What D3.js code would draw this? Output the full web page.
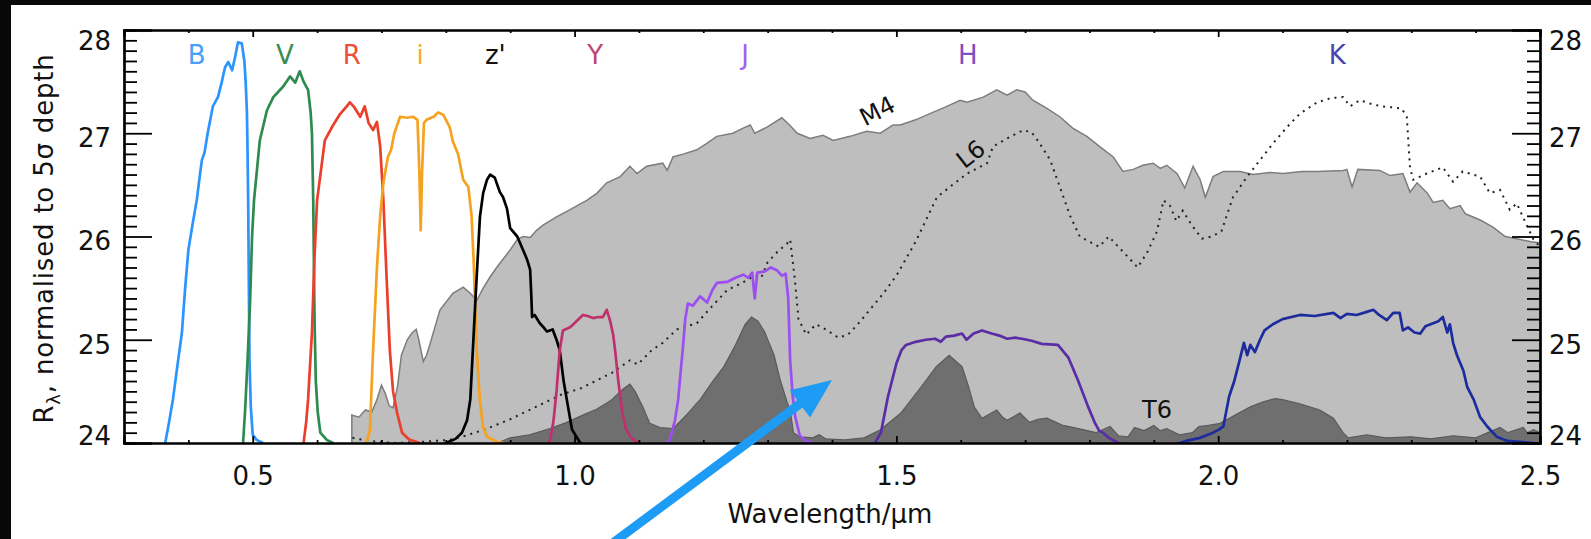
<!DOCTYPE html>
<html>
<head>
<meta charset="utf-8">
<script src="https://cdn.jsdelivr.net/npm/d3@7"></script>
<style>
  html, body { margin: 0; padding: 0; background: #080808; }
  svg { display: block; }
  text { font-family: "DejaVu Sans", sans-serif; fill: #111; }
</style>
</head>
<body>
<svg id="chart" width="1591" height="539"></svg>
<script>
// ---- Data: wavelength (micron) vs R_lambda (mag) ----
const m4Spectrum = [
  [0.654, 24.27], [0.665, 24.25], [0.675, 24.32], [0.685, 24.30], [0.693, 24.42], [0.700, 24.56],
  [0.706, 24.48], [0.712, 24.36], [0.718, 24.34], [0.725, 24.55], [0.731, 24.85], [0.740, 25.00],
  [0.748, 25.07], [0.754, 25.10], [0.758, 25.00], [0.765, 24.79], [0.770, 24.85], [0.775, 24.95],
  [0.791, 25.29], [0.811, 25.45], [0.827, 25.51], [0.838, 25.45], [0.848, 25.38], [0.858, 25.50],
  [0.869, 25.61], [0.879, 25.70], [0.900, 25.87], [0.911, 25.97], [0.920, 26.00], [0.931, 25.99],
  [0.941, 26.06], [0.951, 26.11], [0.972, 26.19], [0.993, 26.26], [1.019, 26.35], [1.035, 26.42],
  [1.050, 26.52], [1.071, 26.58], [1.086, 26.68], [1.097, 26.61], [1.112, 26.68], [1.137, 26.71],
  [1.144, 26.64], [1.153, 26.77], [1.170, 26.80], [1.190, 26.84], [1.205, 26.90], [1.221, 26.97],
  [1.246, 27.00], [1.262, 27.05], [1.273, 27.08], [1.280, 27.00], [1.299, 27.06], [1.322, 27.15],
  [1.334, 27.08], [1.346, 27.00], [1.366, 26.95], [1.386, 26.98], [1.402, 26.93], [1.428, 26.97],
  [1.454, 27.02], [1.475, 27.00], [1.495, 27.08], [1.506, 27.08], [1.530, 27.13], [1.552, 27.19],
  [1.575, 27.25], [1.599, 27.32], [1.610, 27.30], [1.635, 27.35], [1.656, 27.42], [1.672, 27.37],
  [1.687, 27.42], [1.700, 27.40], [1.712, 27.32], [1.734, 27.24], [1.754, 27.16], [1.774, 27.05],
  [1.796, 26.97], [1.816, 26.87], [1.837, 26.77], [1.852, 26.63], [1.868, 26.65], [1.883, 26.69],
  [1.899, 26.71], [1.910, 26.66], [1.920, 26.69], [1.936, 26.61], [1.948, 26.47], [1.961, 26.68],
  [1.972, 26.55], [1.980, 26.38], [1.992, 26.58], [2.008, 26.63], [2.034, 26.63], [2.054, 26.60],
  [2.080, 26.62], [2.101, 26.61], [2.130, 26.63], [2.154, 26.63], [2.194, 26.64], [2.200, 26.65],
  [2.208, 26.48], [2.217, 26.65], [2.251, 26.64], [2.267, 26.59], [2.287, 26.61], [2.298, 26.43],
  [2.309, 26.52], [2.325, 26.42], [2.334, 26.33], [2.349, 26.35], [2.360, 26.27], [2.376, 26.30],
  [2.384, 26.22], [2.407, 26.16], [2.427, 26.09], [2.446, 26.00], [2.462, 25.98], [2.486, 25.95],
  [2.500, 25.94]
];

const l6Spectrum = [
  [0.655, 24.05], [0.680, 24.02], [0.720, 24.00], [0.760, 24.01], [0.805, 24.03], [0.830, 24.07],
  [0.860, 24.13], [0.900, 24.23], [0.940, 24.35], [0.980, 24.47], [1.010, 24.53], [1.058, 24.68],
  [1.086, 24.80], [1.098, 24.76], [1.120, 24.90], [1.137, 24.97], [1.159, 25.10], [1.190, 25.16],
  [1.210, 25.30], [1.237, 25.48], [1.260, 25.55], [1.280, 25.62], [1.290, 25.60], [1.300, 25.75],
  [1.315, 25.85], [1.330, 25.93], [1.335, 25.97], [1.342, 25.60], [1.348, 25.20], [1.360, 25.05],
  [1.375, 25.15], [1.390, 25.10], [1.410, 25.02], [1.425, 25.05], [1.440, 25.15], [1.460, 25.30],
  [1.480, 25.45], [1.500, 25.62], [1.530, 25.95], [1.563, 26.38], [1.583, 26.48], [1.610, 26.61],
  [1.641, 26.71], [1.650, 26.87], [1.672, 26.95], [1.697, 27.03], [1.710, 27.01], [1.723, 26.90],
  [1.739, 26.74], [1.754, 26.48], [1.770, 26.20], [1.785, 26.00], [1.800, 25.95], [1.815, 25.90],
  [1.830, 26.00], [1.845, 25.90], [1.860, 25.80], [1.875, 25.70], [1.890, 25.85], [1.905, 26.05],
  [1.915, 26.35], [1.925, 26.30], [1.935, 26.15], [1.945, 26.25], [1.960, 26.10], [1.975, 25.98],
  [1.990, 26.00], [2.005, 26.05], [2.023, 26.38], [2.045, 26.58], [2.065, 26.74], [2.085, 26.90],
  [2.107, 27.06], [2.127, 27.19], [2.154, 27.30], [2.175, 27.34], [2.194, 27.35], [2.205, 27.26],
  [2.220, 27.32], [2.240, 27.28], [2.255, 27.26], [2.272, 27.25], [2.285, 27.24], [2.293, 27.16],
  [2.298, 26.67], [2.303, 26.55], [2.324, 26.61], [2.349, 26.67], [2.365, 26.53], [2.380, 26.63],
  [2.407, 26.58], [2.422, 26.42], [2.438, 26.45], [2.453, 26.26], [2.464, 26.32], [2.480, 26.10],
  [2.490, 25.97], [2.500, 25.90]
];

const t6Spectrum = [
  [0.880, 24.00], [0.900, 24.05], [0.930, 24.08], [0.962, 24.14], [0.988, 24.20], [1.013, 24.27],
  [1.035, 24.33], [1.058, 24.42], [1.075, 24.52], [1.086, 24.57], [1.094, 24.50], [1.106, 24.35],
  [1.117, 24.19], [1.133, 24.15], [1.153, 24.14], [1.175, 24.28], [1.195, 24.42], [1.215, 24.60],
  [1.232, 24.74], [1.250, 24.95], [1.265, 25.15], [1.275, 25.22], [1.285, 25.18], [1.295, 25.08],
  [1.310, 24.85], [1.320, 24.60], [1.330, 24.40], [1.335, 24.32], [1.340, 24.10], [1.350, 24.06],
  [1.370, 24.05], [1.380, 24.08], [1.390, 24.04], [1.420, 24.03], [1.450, 24.05], [1.476, 24.13],
  [1.507, 24.29], [1.538, 24.54], [1.562, 24.74], [1.582, 24.85], [1.602, 24.74], [1.612, 24.55],
  [1.621, 24.35], [1.633, 24.24], [1.656, 24.32], [1.665, 24.25], [1.672, 24.22], [1.692, 24.29],
  [1.707, 24.20], [1.720, 24.23], [1.734, 24.24], [1.759, 24.17], [1.790, 24.13], [1.810, 24.10],
  [1.832, 24.16], [1.845, 24.07], [1.860, 24.06], [1.870, 24.15], [1.885, 24.12], [1.900, 24.17],
  [1.910, 24.12], [1.920, 24.14], [1.940, 24.08], [1.960, 24.10], [1.970, 24.16], [1.985, 24.17],
  [2.003, 24.19], [2.020, 24.25], [2.050, 24.35], [2.070, 24.40], [2.089, 24.43], [2.100, 24.42],
  [2.127, 24.38], [2.158, 24.32], [2.179, 24.24], [2.194, 24.10], [2.202, 24.05], [2.231, 24.08],
  [2.260, 24.05], [2.300, 24.06], [2.330, 24.04], [2.365, 24.07], [2.400, 24.05], [2.438, 24.15],
  [2.450, 24.10], [2.474, 24.15], [2.480, 24.10], [2.490, 24.13], [2.500, 24.10]
];

// Filter transmission curves, scaled onto the depth axis
const filterB = [
  [0.355, 23.90], [0.364, 24.00], [0.370, 24.20], [0.376, 24.42], [0.383, 24.75], [0.390, 25.07],
  [0.395, 25.50], [0.400, 25.87], [0.406, 26.10], [0.413, 26.35], [0.418, 26.60], [0.421, 26.74],
  [0.425, 26.81], [0.430, 27.00], [0.438, 27.26], [0.446, 27.35], [0.452, 27.50], [0.457, 27.64],
  [0.462, 27.69], [0.468, 27.61], [0.473, 27.75], [0.477, 27.88], [0.483, 27.87], [0.487, 27.70],
  [0.489, 27.50], [0.491, 27.20], [0.492, 26.80], [0.493, 26.30], [0.494, 25.50], [0.495, 24.80],
  [0.497, 24.35], [0.500, 24.08], [0.506, 24.03], [0.516, 24.00]
];
const filterV = [
  [0.480, 23.90], [0.485, 24.00], [0.488, 24.30], [0.492, 24.80], [0.496, 25.39], [0.499, 26.00],
  [0.502, 26.35], [0.511, 26.93], [0.522, 27.22], [0.532, 27.35], [0.547, 27.45], [0.558, 27.55],
  [0.566, 27.49], [0.573, 27.60], [0.579, 27.50], [0.586, 27.42], [0.590, 27.20], [0.592, 27.00],
  [0.594, 26.35], [0.596, 25.20], [0.598, 24.60], [0.601, 24.30], [0.605, 24.10], [0.615, 24.03],
  [0.625, 24.00]
];
const filterR = [
  [0.575, 23.90], [0.579, 24.00], [0.583, 24.20], [0.586, 24.42], [0.592, 25.07], [0.596, 25.80],
  [0.600, 26.35], [0.612, 26.93], [0.625, 27.08], [0.635, 27.18], [0.646, 27.26], [0.651, 27.30],
  [0.658, 27.25], [0.667, 27.16], [0.674, 27.26], [0.680, 27.10], [0.687, 27.03], [0.693, 27.11],
  [0.698, 26.87], [0.703, 26.35], [0.708, 25.60], [0.713, 24.90], [0.718, 24.50], [0.724, 24.30],
  [0.732, 24.10], [0.744, 24.03], [0.760, 24.00]
];
const filterI = [
  [0.672, 23.90], [0.677, 24.01], [0.682, 24.12], [0.687, 24.90], [0.693, 25.70], [0.698, 26.20],
  [0.703, 26.52], [0.710, 26.77], [0.715, 26.84], [0.720, 27.00], [0.729, 27.16], [0.740, 27.15],
  [0.749, 27.16], [0.756, 27.13], [0.759, 26.60], [0.761, 26.06], [0.763, 26.60], [0.766, 27.10],
  [0.770, 27.13], [0.781, 27.16], [0.788, 27.20], [0.796, 27.18], [0.806, 27.06], [0.811, 26.92],
  [0.819, 26.80], [0.827, 26.55], [0.835, 26.48], [0.840, 26.20], [0.843, 25.80], [0.848, 24.90],
  [0.853, 24.40], [0.858, 24.15], [0.864, 24.06], [0.880, 24.01], [0.890, 24.00]
];
const filterZ = [
  [0.790, 23.90], [0.800, 24.00], [0.815, 24.04], [0.825, 24.10], [0.833, 24.22], [0.838, 24.42],
  [0.842, 24.90], [0.847, 25.50], [0.853, 26.19], [0.858, 26.42], [0.864, 26.55], [0.869, 26.60],
  [0.876, 26.57], [0.884, 26.43], [0.889, 26.38], [0.895, 26.27], [0.900, 26.08], [0.911, 26.00],
  [0.920, 25.87], [0.926, 25.78], [0.931, 25.68], [0.933, 25.40], [0.934, 25.22], [0.938, 25.24],
  [0.946, 25.16], [0.952, 25.12], [0.957, 25.08], [0.966, 25.10], [0.972, 25.00], [0.977, 24.90],
  [0.983, 24.60], [0.988, 24.42], [0.996, 24.13], [1.008, 24.01], [1.020, 23.95]
];
const filterY = [
  [0.955, 23.95], [0.962, 24.03], [0.967, 24.20], [0.972, 24.50], [0.977, 24.90], [0.982, 25.09],
  [0.993, 25.12], [1.003, 25.18], [1.013, 25.24], [1.020, 25.23], [1.029, 25.21], [1.037, 25.22],
  [1.044, 25.22], [1.050, 25.29], [1.055, 25.19], [1.060, 25.05], [1.063, 24.90], [1.068, 24.60],
  [1.074, 24.30], [1.080, 24.13], [1.088, 24.05], [1.097, 24.01], [1.110, 23.98]
];
const filterJ = [
  [1.140, 23.98], [1.148, 24.03], [1.156, 24.22], [1.161, 24.42], [1.165, 24.70], [1.168, 24.90],
  [1.172, 25.20], [1.176, 25.35], [1.184, 25.33], [1.195, 25.42], [1.206, 25.36], [1.214, 25.48],
  [1.221, 25.55], [1.237, 25.56], [1.250, 25.60], [1.262, 25.63], [1.270, 25.60], [1.276, 25.65],
  [1.280, 25.40], [1.284, 25.65], [1.295, 25.66], [1.305, 25.70], [1.315, 25.67], [1.322, 25.62],
  [1.328, 25.64], [1.332, 25.40], [1.335, 24.80], [1.339, 24.45], [1.343, 24.25], [1.350, 24.07],
  [1.360, 24.02], [1.370, 24.00]
];
const filterH = [
  [1.465, 23.98], [1.476, 24.10], [1.487, 24.45], [1.500, 24.77], [1.508, 24.90], [1.515, 24.95],
  [1.530, 24.98], [1.546, 25.00], [1.560, 25.01], [1.569, 24.98], [1.577, 25.03], [1.590, 25.04],
  [1.602, 25.06], [1.609, 25.00], [1.620, 25.06], [1.633, 25.09], [1.648, 25.06], [1.660, 25.04],
  [1.672, 25.01], [1.685, 25.02], [1.695, 25.01], [1.710, 24.99], [1.726, 24.96], [1.751, 24.95],
  [1.767, 24.83], [1.782, 24.61], [1.798, 24.35], [1.808, 24.20], [1.815, 24.12], [1.821, 24.10],
  [1.830, 24.05], [1.845, 24.00], [1.860, 23.98]
];
const filterK = [
  [1.930, 23.98], [1.950, 24.02], [1.972, 24.05], [1.992, 24.10], [2.001, 24.13], [2.008, 24.16],
  [2.017, 24.45], [2.025, 24.60], [2.032, 24.77], [2.040, 24.97], [2.045, 24.85], [2.050, 24.95],
  [2.057, 24.88], [2.065, 25.00], [2.072, 25.09], [2.085, 25.15], [2.100, 25.20], [2.127, 25.24],
  [2.150, 25.23], [2.179, 25.26], [2.190, 25.21], [2.200, 25.25], [2.215, 25.24], [2.231, 25.27],
  [2.241, 25.29], [2.250, 25.24], [2.262, 25.19], [2.272, 25.26], [2.282, 25.26], [2.287, 25.09],
  [2.295, 25.12], [2.305, 25.07], [2.314, 25.06], [2.322, 25.13], [2.334, 25.16], [2.342, 25.18],
  [2.349, 25.22], [2.356, 25.07], [2.360, 25.15], [2.365, 24.97], [2.371, 24.85], [2.381, 24.70],
  [2.387, 24.54], [2.397, 24.42], [2.407, 24.25], [2.418, 24.16], [2.433, 24.06], [2.449, 24.02],
  [2.469, 24.01], [2.490, 24.00]
];

const filterNames  = ["B", "V", "R", "i", "z'", "Y", "J", "H", "K"];
const filterCurves = [filterB, filterV, filterR, filterI, filterZ, filterY, filterJ, filterH, filterK];
const filterLabelX = [0.413, 0.550, 0.654, 0.760, 0.877, 1.032, 1.265, 1.611, 2.185];

// Spectral type labels: [text, wavelength, depth, rotation]
const typeLabels = [["M4", 1.470, 27.22, -27], ["L6", 1.615, 26.80, -38], ["T6", 1.905, 24.33, 0]];

const xTickValues = [0.5, 1.0, 1.5, 2.0, 2.5];
const xTickLabels = ["0.5", "1.0", "1.5", "2.0", "2.5"];
const yTickValues = [24, 25, 26, 27, 28];

// Arrow annotation, in data units (tail runs off the bottom)
const arrowFrom = [1.003, 22.77];
const arrowTo   = [1.400, 24.61];

// ---- Styles ----
const lineColors  = ["#2b94ff", "#2e8a4e", "#ea3f2c", "#f5a21f", "#000000", "#c0306c", "#9c4ff0", "#5a2ca6", "#1c2c9c"];
const labelColors = ["#4aa0f8", "#3a8c55", "#ec5038", "#f4ab3a", "#111111", "#c04474", "#a35ef0", "#7a4fc0", "#4a45b0"];

const W = 1591, H = 539;
const plot = { left: 124, right: 1540, top: 30, bottom: 443 };

const svg = d3.select("#chart");

// Page panel
svg.append("rect").attr("x", 0).attr("y", 0).attr("width", W).attr("height", H).attr("fill", "#080808");
svg.append("rect").attr("x", 11).attr("y", 5).attr("width", W - 11).attr("height", H - 5).attr("fill", "#ffffff");

const x = d3.scaleLinear().domain([0.3, 2.5]).range([plot.left, plot.right]);
const y = d3.scaleLinear().domain([24, 28]).range([plot.bottom, plot.top]);

svg.append("clipPath").attr("id", "plotClip")
  .append("rect")
  .attr("x", plot.left).attr("y", plot.top)
  .attr("width", plot.right - plot.left).attr("height", plot.bottom - plot.top);

const g = svg.append("g").attr("clip-path", "url(#plotClip)");

const area = d3.area().x(d => x(d[0])).y0(y(24)).y1(d => y(d[1]));
const line = d3.line().x(d => x(d[0])).y(d => y(d[1]));

// M4 spectrum: light grey fill with a darker outline
g.append("path").datum(m4Spectrum).attr("d", area).attr("fill", "#bebebe");
g.append("path").datum([[m4Spectrum[0][0], 24]].concat(m4Spectrum)).attr("d", line)
  .attr("fill", "none").attr("stroke", "#7d7d7d").attr("stroke-width", 1.5);

// T6 spectrum: dark grey fill
g.append("path").datum(t6Spectrum).attr("d", area).attr("fill", "#6f6f6f");
g.append("path").datum(t6Spectrum).attr("d", line)
  .attr("fill", "none").attr("stroke", "#5a5a5a").attr("stroke-width", 1.2);

// L6 spectrum: dotted line
g.append("path").datum(l6Spectrum).attr("d", line)
  .attr("fill", "none").attr("stroke", "#222").attr("stroke-width", 2)
  .attr("stroke-dasharray", "2,5");

// Filter transmission curves
filterCurves.forEach((curve, i) => {
  g.append("path").datum(curve).attr("d", line)
    .attr("fill", "none").attr("stroke", lineColors[i])
    .attr("stroke-width", 2.7).attr("stroke-linejoin", "round");
});

// ---- Axes ----
const xMinor = d3.range(3, 26).map(v => v / 10).filter(v => Math.abs(v * 2 - Math.round(v * 2)) > 1e-6);
const yMinor = d3.range(240, 281).map(v => v / 10).filter(v => Math.abs(v - Math.round(v)) > 1e-6);

function styleAxis(sel) {
  sel.select(".domain").attr("stroke", "#000").attr("stroke-width", 2.2);
  sel.selectAll(".tick line").attr("stroke", "#000").attr("stroke-width", 1.8);
  sel.selectAll(".tick text").attr("font-size", 26).attr("fill", "#111")
    .style("font-family", "'DejaVu Sans', sans-serif");
}

// Bottom
svg.append("g").attr("transform", `translate(0,${plot.bottom})`)
  .call(d3.axisBottom(x).tickValues(xMinor).tickSize(-3).tickFormat(""))
  .call(styleAxis);
svg.append("g").attr("transform", `translate(0,${plot.bottom})`)
  .call(d3.axisBottom(x).tickValues(xTickValues).tickSize(-7).tickPadding(24)
    .tickFormat((d, i) => xTickLabels[i]))
  .call(styleAxis);
// Top
svg.append("g").attr("transform", `translate(0,${plot.top})`)
  .call(d3.axisTop(x).tickValues(xMinor).tickSize(-3).tickFormat(""))
  .call(styleAxis);
svg.append("g").attr("transform", `translate(0,${plot.top})`)
  .call(d3.axisTop(x).tickValues(xTickValues).tickSize(-7).tickFormat(""))
  .call(styleAxis);

// Tick label vertical nudges for the depth axes (end labels pulled inside)
function nudgeY(sel) {
  sel.selectAll(".tick text").attr("transform", d => {
    const off = d === 28 ? 11 : d === 24 ? -7 : 5;
    return `translate(0,${off})`;
  });
}

// Left
svg.append("g").attr("transform", `translate(${plot.left},0)`)
  .call(d3.axisLeft(y).tickValues(yMinor).tickSize(-13).tickFormat(""))
  .call(styleAxis);
svg.append("g").attr("transform", `translate(${plot.left},0)`)
  .call(d3.axisLeft(y).tickValues(yTickValues).tickSize(-28).tickPadding(13).tickFormat(d3.format("d")))
  .call(styleAxis).call(nudgeY);
// Right
svg.append("g").attr("transform", `translate(${plot.right},0)`)
  .call(d3.axisRight(y).tickValues(yMinor).tickSize(-13).tickFormat(""))
  .call(styleAxis);
svg.append("g").attr("transform", `translate(${plot.right},0)`)
  .call(d3.axisRight(y).tickValues(yTickValues).tickSize(-28).tickPadding(9).tickFormat(d3.format("d")))
  .call(styleAxis).call(nudgeY);

// Axis titles
svg.append("text")
  .attr("x", (plot.left + plot.right) / 2 - 2).attr("y", 523)
  .attr("text-anchor", "middle").attr("font-size", 26)
  .text("Wavelength/µm");

const yTitle = svg.append("text")
  .attr("transform", `translate(53,${(plot.top + plot.bottom) / 2 + 2}) rotate(-90)`)
  .attr("text-anchor", "middle").attr("font-size", 26).attr("letter-spacing", 0.8);
yTitle.append("tspan").text("R");
yTitle.append("tspan").attr("font-size", 18).attr("dy", 7).text("λ");
yTitle.append("tspan").attr("dy", -7).text(", normalised to 5σ depth");

// Filter names along the top
svg.append("g").selectAll("text").data(filterNames).join("text")
  .attr("x", (d, i) => x(filterLabelX[i]))
  .attr("y", 64)
  .attr("text-anchor", "middle").attr("font-size", 26)
  .style("fill", (d, i) => labelColors[i])
  .text(d => d);

// Spectral type labels
svg.append("g").selectAll("text").data(typeLabels).join("text")
  .attr("transform", d => `translate(${x(d[1])},${y(d[2])}) rotate(${d[3]})`)
  .attr("text-anchor", "middle").attr("dy", "0.36em").attr("font-size", 24)
  .text(d => d[0]);

// Arrow annotation
const ax0 = x(arrowFrom[0]), ay0 = y(arrowFrom[1]);
const ax1 = x(arrowTo[0]),   ay1 = y(arrowTo[1]);
const len = Math.hypot(ax1 - ax0, ay1 - ay0);
const ux = (ax1 - ax0) / len, uy = (ay1 - ay0) / len;
const headLen = 40, headHalf = 17;
const bx = ax1 - ux * headLen, by = ay1 - uy * headLen;
const arrowColor = "#1e9cf5";
svg.append("line")
  .attr("x1", ax0).attr("y1", ay0).attr("x2", bx + ux * 2).attr("y2", by + uy * 2)
  .attr("stroke", arrowColor).attr("stroke-width", 9);
svg.append("path")
  .attr("d", `M${ax1},${ay1} L${bx - uy * headHalf},${by + ux * headHalf} L${bx + uy * headHalf},${by - ux * headHalf} Z`)
  .attr("fill", arrowColor);
</script>
</body>
</html>
